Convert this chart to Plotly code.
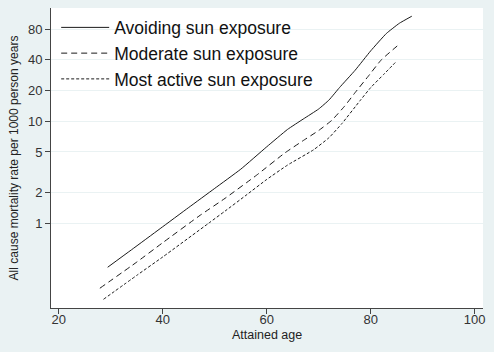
import plotly.graph_objects as go

series_names = ["Avoiding sun exposure", "Moderate sun exposure", "Most active sun exposure"]

age_avoid = [29.4, 34, 39.5, 45, 50, 55, 60, 64, 67, 70, 72, 74, 77, 80, 83, 85.5, 87.9]
rate_avoid = [0.371, 0.551, 0.887, 1.43, 2.20, 3.39, 5.62, 8.32, 10.5, 13.2, 16.2, 21.4, 31.6, 49.0, 72.4, 91.2, 107.0]

age_moderate = [27.9, 35, 40, 47.2, 52, 58, 63.5, 67, 70, 72.5, 75, 77, 79.5, 82, 85.1]
rate_moderate = [0.231, 0.417, 0.646, 1.20, 1.76, 2.95, 4.90, 6.46, 8.13, 10.2, 14.1, 19.1, 27.5, 39.8, 54.7]

age_active = [28.6, 35, 40, 48.8, 52, 56, 60, 64, 69, 72, 74.5, 77.9, 80, 82.5, 84.9]
rate_active = [0.180, 0.309, 0.468, 1.0, 1.32, 1.88, 2.69, 3.72, 5.25, 6.92, 9.55, 15.8, 21.4, 28.8, 38.4]

y_ticks = [1, 2, 5, 10, 20, 40, 80]
x_ticks = [20, 40, 60, 80, 100]

bg = "rgb(234,242,243)"
fig = go.Figure()
for name, xs, ys, dash in [
    (series_names[0], age_avoid, rate_avoid, "solid"),
    (series_names[1], age_moderate, rate_moderate, "6px,4px"),
    (series_names[2], age_active, rate_active, "3px,2px"),
]:
    fig.add_trace(go.Scatter(x=xs, y=ys, mode="lines", name=name,
                             line=dict(color="#1a1a1a", width=1, dash=dash, shape="spline", smoothing=0.4)))

fig.add_annotation(text="Attained age", xref="paper", yref="paper", x=0.5, y=-0.09,
                   xanchor="center", yanchor="middle", showarrow=False,
                   font=dict(size=12.5, color="#222"))

fig.update_layout(
    width=494, height=352,
    margin=dict(l=51, r=11, t=8, b=44),
    paper_bgcolor=bg, plot_bgcolor="white",
    font=dict(family="Liberation Sans, Arial, sans-serif", color="#222"),
    showlegend=True,
    legend=dict(x=0.012, y=0.995, xanchor="left", yanchor="top", bgcolor="rgba(0,0,0,0)",
                font=dict(size=17.5, color="#111"), itemwidth=48, tracegroupgap=0),
    xaxis=dict(range=[18.5, 101.6], tickvals=x_ticks, ticks="outside", ticklen=5,
               tickcolor="#444", showline=True, linecolor="#444", linewidth=1,
               showgrid=False, zeroline=False, tickfont=dict(size=13, color="#333"),
               ticklabelstandoff=-6),
    yaxis=dict(type="log", range=[-0.83, 2.11], tickvals=y_ticks, ticktext=[str(v) for v in y_ticks],
               ticks="outside", ticklen=5, tickcolor="#444", showline=True, linecolor="#444",
               linewidth=1, showgrid=True, gridcolor=bg, gridwidth=1, zeroline=False,
               tickfont=dict(size=13, color="#333"),
               title=dict(text="All cause mortality rate per 1000 person years",
                          font=dict(size=12, color="#222"), standoff=6)),
)
fig.write_html("out.html")
